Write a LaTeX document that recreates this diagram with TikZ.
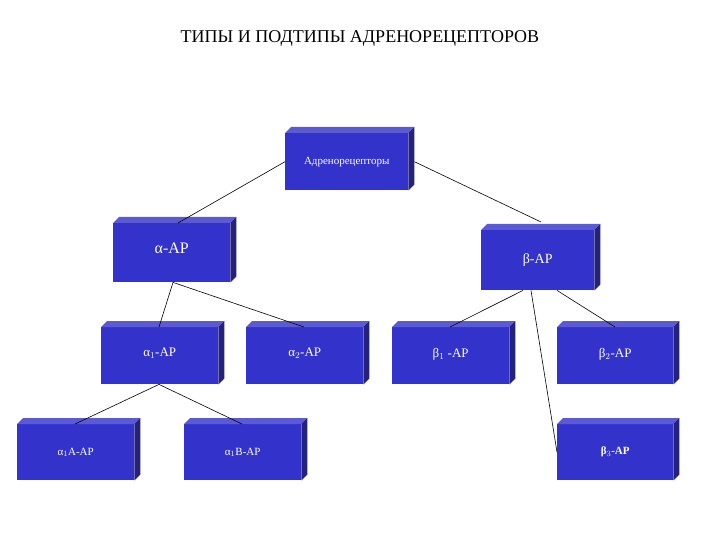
\documentclass[tikz,border=0pt]{standalone}
\usepackage{fontspec}
\setmainfont{Liberation Serif}
\usetikzlibrary{calc}
\definecolor{bfront}{HTML}{3333CC}
\definecolor{btop}{HTML}{5A5AD8}
\definecolor{bside}{HTML}{23237E}
\tikzset{rbox/.style={fill=bfront,text=white,inner sep=0pt,anchor=north west},
  link/.style={draw=black,line width=0.6pt}}
\newcommand\mybox[7]{%
  \node[rbox,minimum width=#4-#2,minimum height=#5-#3,font=#7] (#1) at (#2,#3) {#6};
  \fill[btop] (#1.north west) -- ++(6,-6) -- ($(#1.north east)+(6,-6)$) -- (#1.north east) -- cycle;
  \fill[bside] (#1.north east) -- ++(6,-6) -- ($(#1.south east)+(6,-6)$) -- (#1.south east) -- cycle;
}
\begin{document}
\begin{tikzpicture}[x=1pt,y=-1pt]
\useasboundingbox (0,0) rectangle (720,540);
\node[font=\fontsize{18}{20}\selectfont] (title) at (360,38) {ТИПЫ И ПОДТИПЫ АДРЕНОРЕЦЕПТОРОВ};
\mybox{root}{285}{133}{408}{190}{Адренорецепторы}{\fontsize{11}{12}\selectfont}
\mybox{a}{113}{223}{230}{282}{\raisebox{8pt}{α-AP}}{\fontsize{16}{18}\selectfont}
\mybox{b}{481}{230}{594}{290}{β-AP}{\fontsize{14}{16}\selectfont}
\mybox{a1}{101}{327}{218}{384}{\raisebox{6pt}{α$_1$-AP}}{\fontsize{13}{15}\selectfont}
\mybox{a2}{246}{327}{363}{384}{\raisebox{6pt}{α$_2$-AP}}{\fontsize{13}{15}\selectfont}
\mybox{b1}{392}{327}{509}{384}{\raisebox{6pt}{β$_1$ -AP}}{\fontsize{13}{15}\selectfont}
\mybox{b2}{557}{327}{673}{384}{\raisebox{6pt}{β$_2$-AP}}{\fontsize{13}{15}\selectfont}
\mybox{a1a}{17}{424}{134}{480}{α$_1$A-AP}{\fontsize{11}{12}\selectfont}
\mybox{a1b}{184}{424}{301}{480}{α$_1$B-AP}{\fontsize{11}{12}\selectfont}
\mybox{b3}{557}{424}{673}{480}{\textbf{β$_3$-AP}}{\fontsize{11}{12}\selectfont}
\draw[link] (root.west) -- ($(a.north west)+(65,0)$);
\draw[link] (root.east) ++(6,0) -- ($(b.north west)+(60,-8)$);
\draw[link] ($(a.south west)+(60,0)$) -- ($(a1.north west)+(58,0)$);
\draw[link] ($(a.south west)+(60,0)$) -- ($(a2.north west)+(58,0)$);
\draw[link] ($(b.south west)+(42,0)$) -- ($(b1.north west)+(58,0)$);
\draw[link] ($(b.south west)+(76,0)$) -- ($(b2.north west)+(58,0)$);
\draw[link] ($(b.south west)+(50,0)$) -- (b3.west);
\draw[link] ($(a1.south west)+(58,0)$) -- ($(a1a.north west)+(58,0)$);
\draw[link] ($(a1.south west)+(58,0)$) -- ($(a1b.north west)+(58,0)$);
\end{tikzpicture}
\end{document}
